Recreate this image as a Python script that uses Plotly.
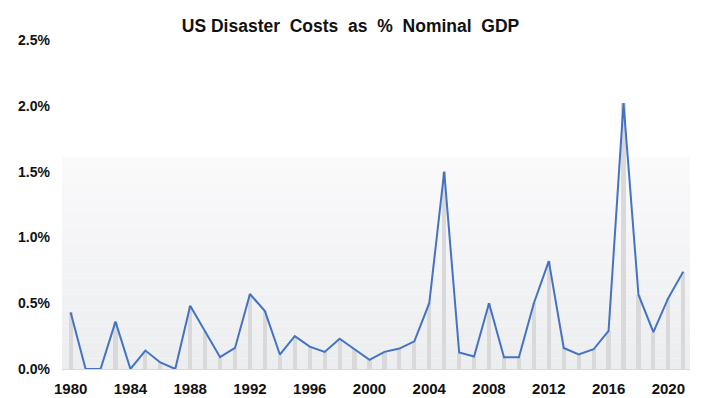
import plotly.graph_objects as go

# Annual US disaster costs as a share of nominal GDP (%)
years = list(range(1980, 2022))
cost_pct = [
    0.43, 0.00, 0.00, 0.36, 0.00, 0.14, 0.05, 0.00, 0.48, 0.29,
    0.09, 0.16, 0.57, 0.44, 0.11, 0.25, 0.17, 0.13, 0.23, 0.15,
    0.07, 0.13, 0.155, 0.21, 0.50, 1.50, 0.125, 0.095, 0.50, 0.09,
    0.09, 0.50, 0.82, 0.16, 0.11, 0.15, 0.29, 2.02, 0.565, 0.28,
    0.54, 0.74,
]
y_tick_vals = [0, 0.5, 1.0, 1.5, 2.0, 2.5]
y_tick_text = ["0.0%", "0.5%", "1.0%", "1.5%", "2.0%", "2.5%"]
x_tick_vals = list(range(1980, 2021, 4))

FONT = "Liberation Sans, Arial, sans-serif"

fig = go.Figure()

# thin grey drop bars under every point
fig.add_trace(go.Bar(
    x=years, y=cost_pct, width=0.28,
    marker=dict(color="#d9d9d9", line=dict(width=0)),
    hoverinfo="skip", showlegend=False,
))

# the blue series line
fig.add_trace(go.Scatter(
    x=years, y=cost_pct, mode="lines",
    line=dict(color="#4472c4", width=2),
    showlegend=False,
))

# soft vertical gradient band behind the lower part of the plot
n_strips = 40
band_top = 1.613
top_rgb = (250, 250, 251)
bot_rgb = (236, 237, 239)
shapes = []
for i in range(n_strips):
    t = i / (n_strips - 1)
    r = round(bot_rgb[0] + (top_rgb[0] - bot_rgb[0]) * t)
    g = round(bot_rgb[1] + (top_rgb[1] - bot_rgb[1]) * t)
    b = round(bot_rgb[2] + (top_rgb[2] - bot_rgb[2]) * t)
    shapes.append(dict(
        type="rect", xref="x domain", yref="y",
        x0=0, x1=1,
        y0=band_top * i / n_strips, y1=band_top * (i + 1) / n_strips,
        fillcolor=f"rgb({r},{g},{b})", line=dict(width=0), layer="below",
    ))

fig.update_layout(
    width=701, height=398,
    margin=dict(l=62, r=11, t=40, b=29, autoexpand=False),
    paper_bgcolor="white", plot_bgcolor="white",
    shapes=shapes,
    title=dict(
        text="<b>US Disaster  Costs  as  %  Nominal  GDP</b>",
        x=0.5, xanchor="center", y=0.935, yanchor="middle",
        font=dict(family=FONT, size=17.5, color="#111111"),
    ),
    xaxis=dict(
        range=[1979.42, 2021.45],
        tickvals=x_tick_vals, ticktext=[f"<b>{v}</b>" for v in x_tick_vals],
        tickfont=dict(family=FONT, size=15, color="#111111"),
        showgrid=False, zeroline=False,
        showline=True, linecolor="#d9d9d9", linewidth=1,
        ticks="", ticklabelstandoff=6, automargin=False,
    ),
    yaxis=dict(
        range=[0, 2.5],
        tickvals=y_tick_vals, ticktext=[f"<b>{t}</b>" for t in y_tick_text],
        tickfont=dict(family=FONT, size=14, color="#111111"),
        showgrid=False, zeroline=False, showline=False,
        ticks="", ticklabelstandoff=11, automargin=False,
    ),
    bargap=0,
)

fig.write_html("out.html")
